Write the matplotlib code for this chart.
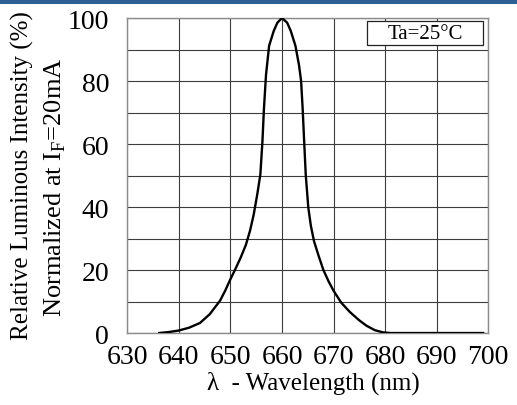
import matplotlib
matplotlib.use("Agg")
import matplotlib.pyplot as plt
from matplotlib.patches import Rectangle

# Spectrum
wavelength = [636.2, 638.0, 640.0, 642.0, 644.1, 646.0, 648.0, 649.0, 650.0,
              650.9, 652.0, 653.0, 653.8, 654.5, 655.2, 655.8, 656.2, 656.5,
              656.9, 657.5, 658.4, 659.1, 660.0, 661.0, 661.7, 662.6, 663.3,
              663.7, 664.0, 664.3, 664.6, 665.1, 665.6, 666.2, 667.0, 668.0,
              669.0, 670.0, 671.5, 673.2, 675.0, 676.4, 678.0, 679.6, 681.0,
              699.0]
intensity = [0.0, 0.3, 0.8, 1.7, 3.2, 6.0, 10.3, 13.5, 17.1,
             20.1, 24.0, 28.0, 32.5, 37.5, 44.0, 50.3, 60.7, 71.3,
             82.0, 91.2, 95.9, 98.5, 100.0, 98.5, 95.9, 91.2, 85.0,
             80.0, 71.3, 60.7, 50.3, 39.8, 34.0, 29.2, 25.0, 20.1,
             16.5, 13.4, 9.6, 6.6, 4.0, 2.3, 0.9, 0.2, 0.0,
             0.0]

x_ticks = [630, 640, 650, 660, 670, 680, 690, 700]
y_ticks = [0, 20, 40, 60, 80, 100]
y_grid = [10, 30, 50, 70, 90]

serif = "Liberation Serif"
plt.rcParams["font.family"] = serif
plt.rcParams["mathtext.fontset"] = "custom"
plt.rcParams["mathtext.rm"] = serif

fig = plt.figure(figsize=(5.17, 4.06), dpi=100)
ax = fig.add_axes([0.2462, 0.1773, 0.6983, 0.7759])

# blue band at the top
fig.patches.append(Rectangle((0, 1 - 5 / 406), 1, 5 / 406, transform=fig.transFigure,
                             facecolor="#2f5f94", edgecolor="none"))

ax.set_xlim(630, 700)
ax.set_ylim(0, 100)
ax.set_xticks(x_ticks)
ax.set_yticks(y_ticks)
ax.set_yticks(y_grid, minor=True)
ax.grid(True, which="both", color="#3c3c3c", lw=0.8)
ax.tick_params(which="both", length=0)
ax.tick_params(axis="x", labelsize=20, pad=8)
ax.tick_params(axis="y", labelsize=20, pad=13)
for s in ax.spines.values():
    s.set_color("#8a8a8a")
    s.set_linewidth(1.0)

ax.plot(wavelength, intensity, color="black", lw=1.7, zorder=3,
        solid_joinstyle="round")

# condition box
ax.add_patch(Rectangle((676.5, 91.4), 22.5, 7.6, facecolor="white",
                       edgecolor="#222222", lw=0.9, zorder=4))
ax.text(687.7, 95.2, "Ta=25°C", fontsize=15, ha="center", va="center", zorder=5)

fig.text(0.0426, 0.5665, "Relative Luminous Intensity (%)", rotation=90,
         ha="center", va="center", fontsize=18)
fig.text(0.106, 0.539, r"Normalized at I$_{\rm F}$=20mA", rotation=90,
         ha="center", va="center", fontsize=19)
fig.text(0.607, 0.0567, "λ  - Wavelength (nm)", ha="center", va="center",
         fontsize=18)

fig.savefig("out.png", dpi=100)
